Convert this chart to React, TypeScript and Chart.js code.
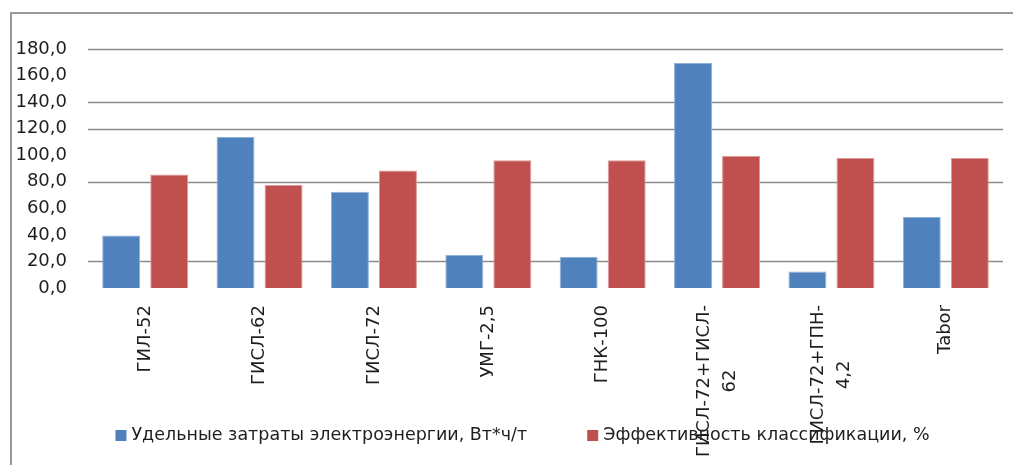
import React, { useEffect, useRef } from "react";
import { Chart, registerables } from "chart.js";

Chart.register(...registerables);

const categories: (string | string[])[] = [
  "ГИЛ-52",
  "ГИСЛ-62",
  "ГИСЛ-72",
  "УМГ-2,5",
  "ГНК-100",
  ["ГИСЛ-72+ГИСЛ-", "62"],
  ["ГИСЛ-72+ГПН-", "4,2"],
  "Tabor",
];

const energyValues = [39.5, 113.8, 72.5, 25.0, 23.5, 169.5, 12.5, 53.5];
const efficiencyValues = [85.5, 77.5, 88.5, 96.3, 96.3, 99.5, 98.0, 98.0];

const seriesNames = [
  "Удельные затраты электроэнергии, Вт*ч/т",
  "Эффективность классификации, %",
];

const visibleGridValues = [20, 80, 120, 140, 180];

const FONT = "DejaVu Sans";

export default function App() {
  const canvasRef = useRef<HTMLCanvasElement | null>(null);

  useEffect(() => {
    if (!canvasRef.current) return;

    const gridPlugin = {
      id: "partialGrid",
      beforeDatasetsDraw(chart: any) {
        const ys = chart.scales.y;
        const { left, right } = chart.chartArea;
        const ctx = chart.ctx;
        ctx.save();
        ctx.strokeStyle = "#8c8c8c";
        ctx.lineWidth = 1.6;
        visibleGridValues.forEach((v) => {
          const y = Math.round(ys.getPixelForValue(v)) + 0.5;
          ctx.beginPath();
          ctx.moveTo(left, y);
          ctx.lineTo(right, y);
          ctx.stroke();
        });
        ctx.restore();
      },
    };

    const xLabelPlugin = {
      id: "xLabels",
      afterDraw(chart: any) {
        const xs = chart.scales.x;
        const ctx = chart.ctx;
        ctx.save();
        ctx.font = `18px "${FONT}"`;
        ctx.fillStyle = "#1e1e1e";
        ctx.textAlign = "center";
        ctx.textBaseline = "middle";
        const lineH = 26;
        const topY = xs.top + 17;
        categories.forEach((lab, i) => {
          const lines = Array.isArray(lab) ? lab : [lab];
          const x = xs.getPixelForTick(i);
          const maxW = Math.max(...lines.map((l) => ctx.measureText(l).width));
          ctx.save();
          ctx.translate(x, topY);
          ctx.rotate(-Math.PI / 2);
          lines.forEach((l, j) => {
            const v = (j - (lines.length - 1) / 2) * lineH;
            ctx.fillText(l, -maxW / 2, v);
          });
          ctx.restore();
        });
        ctx.restore();
      },
    };

    const legendPlugin = {
      id: "bottomLegend",
      afterDraw(chart: any) {
        const ctx = chart.ctx;
        ctx.save();
        ctx.font = `17.5px "${FONT}"`;
        ctx.textBaseline = "middle";
        ctx.textAlign = "left";
        const box = 11;
        const textGap = 5;
        const itemGap = 60;
        const ds = chart.data.datasets;
        const widths = ds.map(
          (d: any) => box + textGap + ctx.measureText(d.label).width
        );
        const total =
          widths.reduce((a: number, b: number) => a + b, 0) +
          itemGap * (ds.length - 1);
        let x = 522.5 - total / 2;
        const cy = 435.5;
        ds.forEach((d: any, i: number) => {
          ctx.fillStyle = d.backgroundColor;
          ctx.fillRect(x, cy - box / 2, box, box);
          ctx.fillStyle = "#1e1e1e";
          ctx.fillText(d.label, x + box + textGap, cy);
          x += widths[i] + itemGap;
        });
        ctx.restore();
      },
    };

    const chart = new Chart(canvasRef.current, {
      type: "bar",
      data: {
        labels: categories.map((c) => (Array.isArray(c) ? c.join("") : c)),
        datasets: [
          {
            label: seriesNames[0],
            data: energyValues,
            backgroundColor: "#4F81BD",
            borderColor: "#8fb0d8",
            borderWidth: 1,
            categoryPercentage: 0.84,
            barPercentage: 0.79,
          },
          {
            label: seriesNames[1],
            data: efficiencyValues,
            backgroundColor: "#C0504D",
            borderColor: "#dc9a98",
            borderWidth: 1,
            categoryPercentage: 0.84,
            barPercentage: 0.79,
          },
        ],
      },
      options: {
        animation: false,
        responsive: true,
        maintainAspectRatio: false,
        layout: { padding: { left: 10, right: 10, top: 49, bottom: 0 } },
        plugins: {
          tooltip: { enabled: false },
          legend: { display: false },
        },
        scales: {
          x: {
            grid: { display: false },
            border: { display: false },
            ticks: { display: false },
            afterFit: (s: any) => {
              s.height = 177;
            },
          },
          y: {
            min: 0,
            max: 180,
            afterFit: (s: any) => {
              s.width = 78;
            },
            border: { display: false },
            grid: { display: false, drawTicks: false },
            ticks: {
              stepSize: 20,
              autoSkip: false,
              padding: 21,
              color: "#1e1e1e",
              font: { family: FONT, size: 18 },
              callback: (v: any) => Number(v).toFixed(1).replace(".", ","),
            },
          },
        },
      },
      plugins: [gridPlugin, xLabelPlugin, legendPlugin],
    });

    return () => chart.destroy();
  }, []);

  return (
    <div
      style={{
        position: "absolute",
        left: 0,
        top: 0,
        width: 1013,
        height: 465,
        background: "#fff",
        overflow: "hidden",
      }}
    >
      <div
        style={{
          position: "absolute",
          left: 10,
          top: 12,
          right: -4,
          bottom: -4,
          borderLeft: "2px solid #9a9a9a",
          borderTop: "2px solid #9a9a9a",
        }}
      />
      <canvas ref={canvasRef} />
    </div>
  );
}
